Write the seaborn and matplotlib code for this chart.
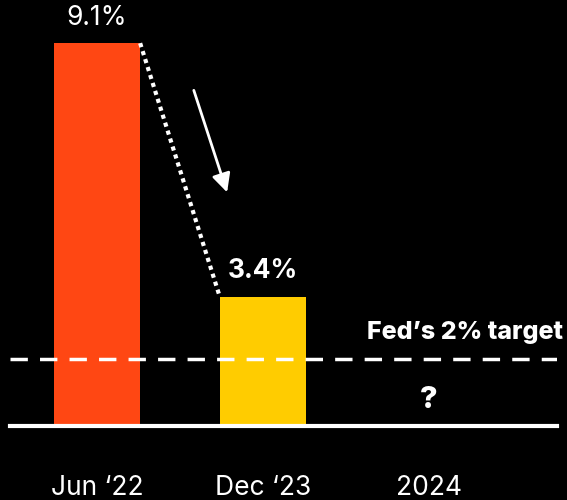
import pandas as pd
import matplotlib.pyplot as plt
import seaborn as sns

# data
periods = ["Jun \u201822", "Dec \u201823", "2024"]
bar_periods = ["Jun \u201822", "Dec \u201823"]
cpi = [9.1, 3.4]
bar_colors = ["#ff4713", "#ffcc00"]
fed_target = 2.0

df = pd.DataFrame({"period": bar_periods, "cpi": cpi})

sns.set_theme(style="dark")
plt.rcParams["font.family"] = ["Inter", "DejaVu Sans"]

fig = plt.figure(figsize=(5.67, 5.0), dpi=100, facecolor="black")
ax = fig.add_axes([10 / 567, 74 / 500, 547 / 567, 426 / 500])
ax.set_facecolor("black")

sns.barplot(data=df, x="period", y="cpi", hue="period", order=periods,
            palette=bar_colors, width=0.52, legend=False, saturation=1,
            edgecolor="none", linewidth=0, ax=ax)

ax.set_xlim(-0.524, 2.771)
ax.set_ylim(0.5, 10.07)

# value labels
ax.bar_label(ax.containers[0], fmt="{:.1f}%", padding=9, color="white",
             fontsize=19)
ax.bar_label(ax.containers[1], fmt="{:.1f}%", padding=9, color="white",
             fontsize=19, fontweight="bold")

# dotted connector between bar tops
bars = sorted([p for p in ax.patches if p.get_height() > 0], key=lambda p: p.get_x())
x0 = bars[0].get_x() + bars[0].get_width()
x1 = bars[1].get_x()
ax.plot([x0, x1], cpi, color="white", linestyle=(0, (1, 1)), linewidth=3,
        solid_capstyle="butt")

# downward arrow
ax.annotate("", xy=(0.789, 5.69), xytext=(0.578, 8.1),
            arrowprops=dict(arrowstyle="-|>", color="white", lw=2,
                            mutation_scale=28))

# Fed target line
ax.axhline(fed_target, color="white", linestyle=(0, (5, 3.5)), linewidth=2.5)
ax.annotate("Fed\u2019s 2% target", xy=(1.011, fed_target),
            xycoords=("axes fraction", "data"), xytext=(0, 11),
            textcoords="offset points", ha="right", va="bottom",
            color="white", fontsize=18, fontweight="heavy")

# unknown 2024 value
ax.annotate("?", xy=(2, 0.5), xytext=(0, 9), textcoords="offset points",
            ha="center", va="bottom", color="white", fontsize=22,
            fontweight="heavy")

# axes styling
for side in ["top", "left", "right"]:
    ax.spines[side].set_visible(False)
ax.spines["bottom"].set_color("white")
ax.spines["bottom"].set_linewidth(3)
ax.set_yticks([])
ax.set_xlabel("")
ax.set_ylabel("")
ax.grid(False)
ax.tick_params(axis="x", colors="white", length=0, pad=35, labelsize=19)

fig.savefig("out.png", dpi=100, facecolor="black")
